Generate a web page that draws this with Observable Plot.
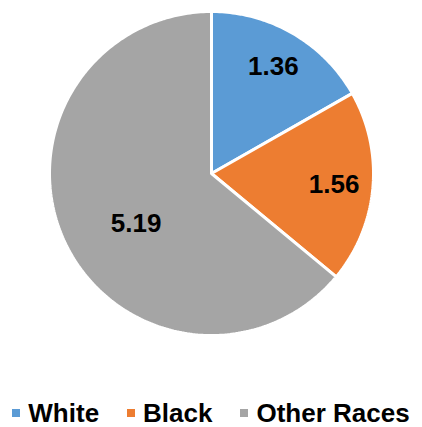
<!DOCTYPE html>
<html>
<head>
<meta charset="utf-8">
<script src="https://cdn.jsdelivr.net/npm/d3@7"></script>
<script src="https://cdn.jsdelivr.net/npm/@observablehq/plot@0.6"></script>
<style>
  body { margin: 0; background: #fff; font-family: "Liberation Sans", Arial, sans-serif; }
  #legend { display: flex; justify-content: center; align-items: center; margin-top: 20px; height: 26px;
            font-weight: bold; font-size: 26px; color: #000; white-space: nowrap; width: 422px; }
  .item { display: flex; align-items: center; margin: 0 14px; flex-shrink: 0; }
  .sw { width: 8px; height: 8px; margin-right: 8px; flex-shrink: 0; }
</style>
</head>
<body>
<div id="chart"></div>
<div id="legend"></div>
<script>
const categories = ["White", "Black", "Other Races"];
const values = [1.36, 1.56, 5.19];
const colors = ["#5B9BD5", "#ED7D31", "#A5A5A5"];

const pie = d3.pie().sort(null).value(d => d)(values);
const points = [];
const labels = [];
pie.forEach((a, i) => {
  points.push({cat: categories[i], x: 0, y: 0});
  const n = Math.max(8, Math.ceil((a.endAngle - a.startAngle) * 60));
  for (let k = 0; k <= n; k++) {
    const t = a.startAngle + (a.endAngle - a.startAngle) * k / n;
    points.push({cat: categories[i], x: Math.sin(t), y: Math.cos(t)});
  }
  points.push({cat: categories[i], x: 0, y: 0});
  const big = (a.endAngle - a.startAngle) > Math.PI;
  const mid = (a.startAngle + a.endAngle) / 2 - (big ? 0.15 : 0);
  const lr = big ? 0.56 : 0.76;
  labels.push({x: lr * Math.sin(mid), y: lr * Math.cos(mid), text: values[i].toFixed(2)});
});

const chart = Plot.plot({
  width: 422,
  height: 380,
  margin: 0,
  x: {domain: [-1, 1], range: [49, 373], axis: null},
  y: {domain: [-1, 1], range: [335, 11], axis: null},
  color: {domain: categories, range: colors},
  marks: [
    Plot.line(points, {x: "x", y: "y", z: "cat", fill: "cat", stroke: "#fff", strokeWidth: 3, strokeLinejoin: "miter", curve: "linear"}),
    Plot.text(labels, {x: "x", y: "y", text: "text", fontSize: 26, fontWeight: "bold", fill: "#000", fontFamily: "Liberation Sans, Arial, sans-serif"})
  ]
});
document.getElementById("chart").appendChild(chart);

const legend = document.getElementById("legend");
categories.forEach((c, i) => {
  const it = document.createElement("div");
  it.className = "item";
  const sw = document.createElement("div");
  sw.className = "sw";
  sw.style.background = colors[i];
  const tx = document.createElement("span");
  tx.textContent = c;
  it.appendChild(sw); it.appendChild(tx);
  legend.appendChild(it);
});
</script>
</body>
</html>
